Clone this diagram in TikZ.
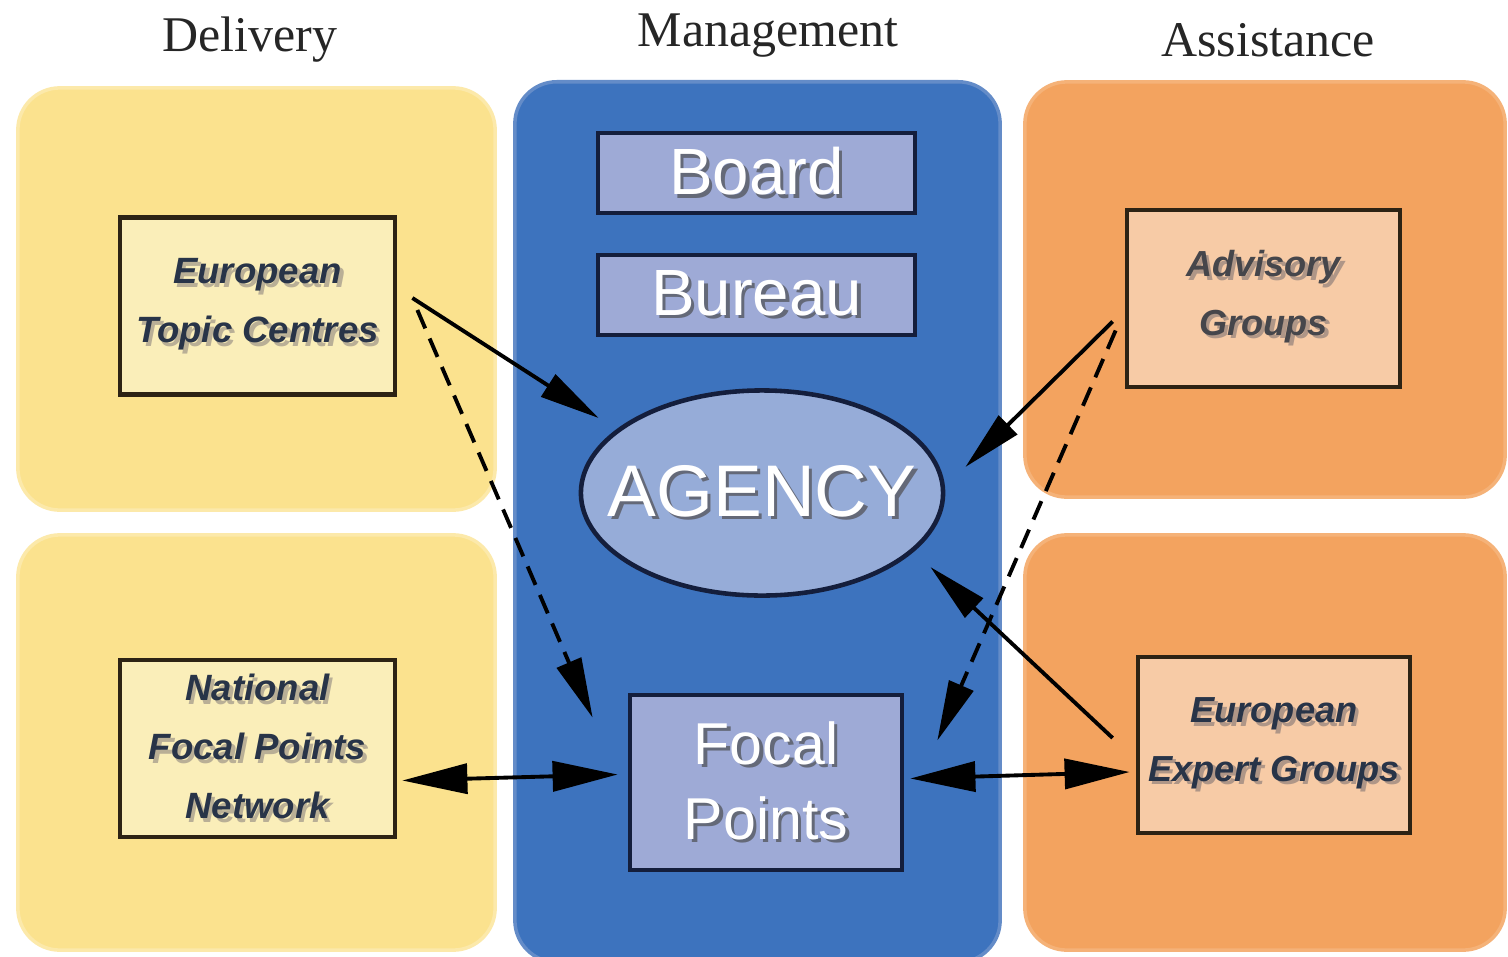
\documentclass[tikz,border=0pt]{standalone}
\usepackage{fontspec}
\setmainfont{Liberation Serif}
\newfontfamily\arialf{Liberation Sans}
\usetikzlibrary{arrows.meta,shapes.geometric,calc}
\definecolor{yelpanel}{RGB}{251,226,142}
\definecolor{yelrim}{RGB}{252,233,170}
\definecolor{bluepanel}{RGB}{61,115,190}
\definecolor{bluerim}{RGB}{100,140,200}
\definecolor{orpanel}{RGB}{243,163,95}
\definecolor{orrim}{RGB}{245,178,120}
\definecolor{yelbox}{RGB}{250,238,185}
\definecolor{peachbox}{RGB}{247,203,166}
\definecolor{lavbox}{RGB}{158,170,214}
\definecolor{agencyc}{RGB}{150,172,216}
\definecolor{boxline}{RGB}{45,35,20}
\definecolor{navyline}{RGB}{20,30,60}
\definecolor{boxtext}{RGB}{40,52,72}
\definecolor{advtext}{RGB}{70,70,75}
\definecolor{shadowc}{RGB}{100,105,120}
\definecolor{lightshadow}{RGB}{185,175,150}
\definecolor{peachshadow}{RGB}{175,150,135}
\newcommand{\shd}[2][shadowc]{\leavevmode\rlap{\hspace{1pt}\raisebox{-1pt}{\textcolor{#1}{#2}}}#2}
\tikzset{
  header/.style={font=\fontsize{14.2}{16}\selectfont, text=black!85},
  panelbox/.style={rounded corners=0.42cm, line width=1pt, inner sep=0pt},
  ybox/.style={draw=boxline, fill=yelbox, line width=1.3pt, inner sep=0pt,
     minimum width=2.75cm, minimum height=1.77cm, align=center, text=boxtext,
     font=\arialf\bfseries\itshape\fontsize{10.4}{16.8}\selectfont},
  obox/.style={draw=boxline, fill=peachbox, line width=1.3pt, inner sep=0pt,
     minimum width=2.73cm, minimum height=1.77cm, align=center,
     font=\arialf\bfseries\itshape\fontsize{10.3}{16.6}\selectfont},
  mbox/.style={draw=navyline, fill=lavbox, line width=1.3pt, inner sep=0pt,
     minimum width=3.17cm, minimum height=0.80cm, text=white,
     font=\arialf\fontsize{18.6}{20}\selectfont},
  conn/.style={line width=1.1pt, draw=black, -{Triangle[length=0.6cm,width=0.26cm]}},
  dconn/.style={conn, dash pattern=on 0.2cm off 0.11cm},
  biconn/.style={line width=1.1pt, draw=black, {Triangle[length=0.65cm,width=0.3cm]}-{Triangle[length=0.65cm,width=0.3cm]}}
}
\begin{document}
\begin{tikzpicture}[x=0.01cm,y=-0.01cm]
\useasboundingbox[fill=white] (0,0) rectangle (1508,957);

% headers
\node[header] (hdel) at (250,40) {Delivery};
\node[header] (hman) at (768,36) {Management};
\node[header] (hass) at (1268,40) {Assistance};

% panels
\node[panelbox, fill=yelpanel, draw=yelrim, minimum width=4.77cm, minimum height=4.22cm] (dtop) at (256.5,299) {};
\node[panelbox, fill=yelpanel, draw=yelrim, minimum width=4.77cm, minimum height=4.15cm] (dbot) at (256.5,742.5) {};
\node[panelbox, fill=bluepanel, draw=bluerim, minimum width=4.85cm, minimum height=8.8cm] (mgmt) at (757.5,522) {};
\node[panelbox, fill=orpanel, draw=orrim, minimum width=4.8cm, minimum height=4.15cm] (atop) at (1265,289.5) {};
\node[panelbox, fill=orpanel, draw=orrim, minimum width=4.8cm, minimum height=4.15cm] (abot) at (1265,742.5) {};

% boxes
\node[ybox] (etc) at (257.5,306) {\shd[lightshadow]{European}\\\shd[lightshadow]{Topic Centres}};
\node[ybox] (nfp) at (257.5,748.5) {\shd[lightshadow]{National}\\\shd[lightshadow]{Focal Points}\\\shd[lightshadow]{Network}};
\node[mbox] (board) at (756.5,173) {\shd{Board}};
\node[mbox] (bureau) at (756.5,295) {\shd{Bureau}};
\node[ellipse, draw=navyline, fill=agencyc, line width=1.3pt, inner sep=0pt,
  minimum width=3.62cm, minimum height=2.05cm, text=white,
  font=\arialf\fontsize{20.8}{22}\selectfont] (agency) at (762,493) {\makebox[0pt]{\shd{AGENCY}}};
\node[mbox, minimum width=2.72cm, minimum height=1.75cm, align=center,
  font=\arialf\fontsize{16.8}{21.3}\selectfont] (fp) at (766,782.5) {\shd{Focal}\\\shd{Points}};
\node[obox, text=advtext] (adv) at (1263.5,298.5) {\shd[peachshadow]{Advisory}\\\shd[peachshadow]{Groups}};
\node[obox, text=boxtext, minimum width=2.72cm, minimum height=1.76cm] (eeg) at (1274,745) {\shd[peachshadow]{European}\\\shd[peachshadow]{Expert Groups}};

% connectors
\draw[conn] ($(etc.east)+(15,-8)$) -- ($(agency.west)+(20,-75)$);
\draw[dconn] ($(etc.east)+(20,4)$) -- ($(fp.north west)+(-35,25)$);
\draw[conn] ($(adv.west)+(-12,23)$) -- ($(agency.east)+(20,-26)$);
\draw[dconn] ($(adv.west)+(-9,32)$) -- ($(fp.east)+(33,-42)$);
\draw[conn] ($(eeg.west)+(-23,-7)$) -- ($(agency.east)+(-15,74)$);
\draw[biconn] ($(nfp.east)+(5,32)$) -- ($(fp.west)+(-10,-8)$);
\draw[biconn] ($(fp.east)+(6,-4)$) -- ($(eeg.west)+(-6,27)$);
\end{tikzpicture}
\end{document}
